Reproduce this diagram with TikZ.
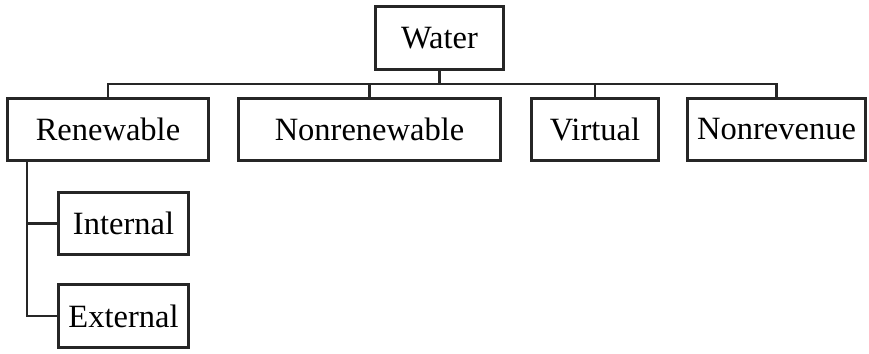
\documentclass[tikz,border=0pt]{standalone}
\usepackage{fontspec}
\setmainfont{Liberation Serif}
\begin{document}
\begin{tikzpicture}[x=1pt,y=-1pt,
  box/.style={draw=black!85,line width=2.6pt,inner sep=0pt,font=\fontsize{32.5}{39}\selectfont},
  conn/.style={draw=black!85,line width=2.6pt}]
\useasboundingbox (0,0) rectangle (869,353);
\node[box,minimum width=128pt,minimum height=63pt] (water) at (439.5,38) {Water};
\node[box,minimum width=201pt,minimum height=62pt] (ren) at (108,129.5) {Renewable};
\node[box,minimum width=262pt,minimum height=62pt] (nren) at (369.5,129.5) {Nonrenewable};
\node[box,minimum width=127pt,minimum height=62pt] (virt) at (595,129.5) {Virtual};
\node[box,minimum width=178pt,minimum height=62pt] (nrev) at (776.5,129.5) {Nonrevenue};
\node[box,minimum width=130pt,minimum height=62pt] (int) at (123.5,223.5) {Internal};
\node[box,minimum width=130pt,minimum height=63pt] (ext) at (123.5,316) {External};
\coordinate (bus) at (0,84);
\coordinate (spine) at (27,0);
\draw[conn] (water.south) -- (water.south |- bus);
\draw[conn] (ren.north) -- (ren.north |- bus) -- (nrev.north |- bus) -- (nrev.north);
\draw[conn] (nren.north) -- (nren.north |- bus);
\draw[conn] (virt.north) -- (virt.north |- bus);
\draw[conn] (ren.south -| spine) |- (ext.west);
\draw[conn] (spine |- int.west) -- (int.west);
\end{tikzpicture}
\end{document}
